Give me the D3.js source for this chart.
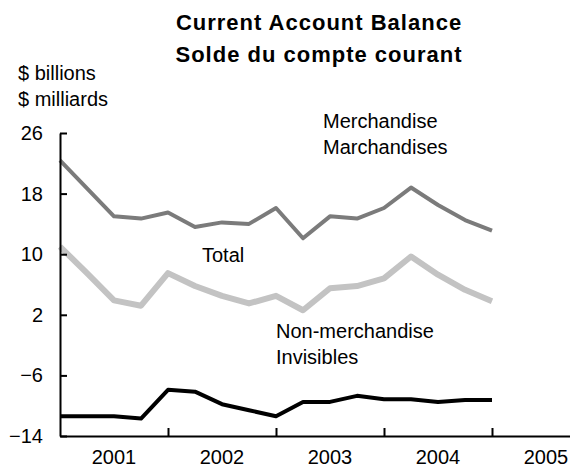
<!DOCTYPE html>
<html>
<head>
<meta charset="utf-8">
<script src="https://cdn.jsdelivr.net/npm/d3@7"></script>
<style>
  body { margin: 0; background: #fff; }
  svg { display: block; font-family: "Liberation Sans", Arial, sans-serif; }
  .axis path, .axis line { stroke: #000; stroke-width: 2; }
  .axis text { font-size: 20px; fill: #000; }
  .lbl { font-size: 20px; fill: #000; }
</style>
</head>
<body>
<div id="chart"></div>
<script>
var svgWidth = 570;
var svgHeight = 469;

// quarterly data, 2001Q1 .. 2005Q1
var quarters = [2001, 2001.25, 2001.5, 2001.75, 2002, 2002.25, 2002.5, 2002.75,
  2003, 2003.25, 2003.5, 2003.75, 2004, 2004.25, 2004.5, 2004.75, 2005];
var merchandise = [22.4, 18.7, 15.0, 14.7, 15.5, 13.6, 14.2, 14.0,
  16.1, 12.1, 15.0, 14.7, 16.1, 18.8, 16.5, 14.5, 13.1];
var total = [11.0, 7.5, 3.9, 3.2, 7.5, 5.8, 4.5, 3.5,
  4.5, 2.6, 5.5, 5.8, 6.8, 9.7, 7.3, 5.3, 3.8];
var nonMerchandise = [-11.4, -11.4, -11.4, -11.7, -7.9, -8.15, -9.8, -10.6,
  -11.4, -9.5, -9.5, -8.7, -9.15, -9.15, -9.5, -9.25, -9.25];

var yTicks = [-14, -6, 2, 10, 18, 26];
var yearTicks = [2002, 2003, 2004, 2005];
var yearLabels = [2001, 2002, 2003, 2004, 2005];

var margin = { top: 133, left: 60 };
var chartHeight = 436 - margin.top;

var svg = d3.select("#chart")
  .append("svg")
  .attr("width", svgWidth)
  .attr("height", svgHeight);

var chartGroup = svg.append("g")
  .attr("transform", `translate(${margin.left}, ${margin.top})`);

// one year = 108px
var xScale = d3.scaleLinear()
  .domain([2001, 2006])
  .range([0, 540]);

var yScale = d3.scaleLinear()
  .domain([-14, 26])
  .range([chartHeight, 0]);

// lines
var series = [
  { values: merchandise, color: "#7b7b7b", width: 4 },
  { values: total, color: "#c3c3c3", width: 6 },
  { values: nonMerchandise, color: "#000", width: 4 }
];

var line = d3.line()
  .x((d, i) => xScale(quarters[i]))
  .y(d => yScale(d));

series.forEach(function(s) {
  chartGroup.append("path")
    .datum(s.values)
    .attr("fill", "none")
    .attr("stroke", s.color)
    .attr("stroke-width", s.width)
    .attr("stroke-linejoin", "round")
    .attr("d", line);
});

// axes
var leftAxis = d3.axisLeft(yScale)
  .tickValues(yTicks)
  .tickSize(-7)
  .tickSizeOuter(0)
  .tickPadding(17);

chartGroup.append("g")
  .attr("class", "axis")
  .call(leftAxis);

var bottomAxis = d3.axisBottom(xScale)
  .tickValues(yearTicks)
  .tickSize(-8)
  .tickSizeOuter(0)
  .tickFormat("");

chartGroup.append("g")
  .attr("class", "axis")
  .attr("transform", `translate(0, ${chartHeight})`)
  .call(bottomAxis);

// year labels sit in the middle of each year
chartGroup.selectAll(".year")
  .data(yearLabels)
  .enter()
  .append("text")
  .attr("class", "lbl")
  .attr("x", d => xScale(d + 0.5))
  .attr("y", chartHeight + 28)
  .attr("text-anchor", "middle")
  .text(d => d);

// titles
svg.append("text")
  .attr("x", 319)
  .attr("y", 30)
  .attr("text-anchor", "middle")
  .attr("font-weight", "bold")
  .style("font-size", "22px")
  .style("letter-spacing", "1px")
  .text("Current Account Balance");

svg.append("text")
  .attr("x", 319)
  .attr("y", 62)
  .attr("text-anchor", "middle")
  .attr("font-weight", "bold")
  .style("font-size", "22px")
  .style("letter-spacing", "1px")
  .text("Solde du compte courant");

svg.append("text").attr("class", "lbl").attr("x", 18).attr("y", 80).text("$ billions");
svg.append("text").attr("class", "lbl").attr("x", 18).attr("y", 106).text("$ milliards");

// series labels
svg.append("text").attr("class", "lbl").attr("x", 323).attr("y", 128).text("Merchandise");
svg.append("text").attr("class", "lbl").attr("x", 323).attr("y", 154).text("Marchandises");
svg.append("text").attr("class", "lbl").attr("x", 202).attr("y", 262).text("Total");
svg.append("text").attr("class", "lbl").attr("x", 276).attr("y", 338).text("Non-merchandise");
svg.append("text").attr("class", "lbl").attr("x", 276).attr("y", 364).text("Invisibles");
</script>
</body>
</html>
